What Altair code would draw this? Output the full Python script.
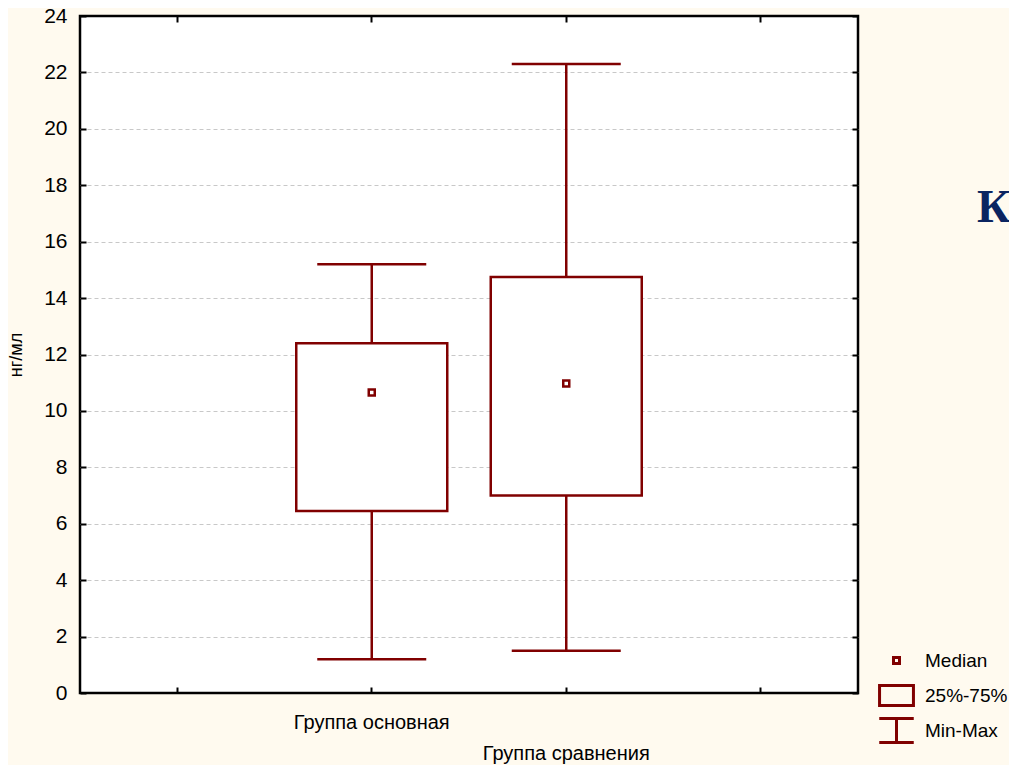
import altair as alt
import pandas as pd

# ---- data ----
groups = ["Группа основная", "Группа сравнения"]
mins = [1.2, 1.5]
q1s = [6.45, 7.0]
medians = [10.65, 10.97]
q3s = [12.4, 14.75]
maxs = [15.2, 22.3]

x_domain = ["pad_left", "Группа основная", "Группа сравнения", "pad_right"]
y_ticks = list(range(0, 25, 2))
legend_items = ["Median", "25%-75%", "Min-Max"]
legend_shapes = [
    "M0,-0.8M0,0.8M-0.2,-0.2H0.2V0.2H-0.2Z",
    "M0,-0.8M0,0.8M-1.13,-0.67H1.13V0.67H-1.13Z",
    "M0,-0.8M0,0.8M-1.15,-0.8H1.15M0,-0.8V0.8M-1.15,0.8H1.15",
]
side_word = ["Ко"]

DARK = "#800000"
FONT = "Liberation Sans Narrow, Arial Narrow, Liberation Sans, Arial, sans-serif"
BG = "#FFFAEF"

df = pd.DataFrame({
    "group": groups,
    "min": mins,
    "q1": q1s,
    "median": medians,
    "q3": q3s,
    "max": maxs,
    "kind": ["Median"] * len(groups),
})

label_expr = ("datum.value == 'Группа основная' ? datum.value : "
              "(datum.value == 'Группа сравнения' ? ['', datum.value] : '')")

x_main = alt.X(
    "group:N",
    scale=alt.Scale(type="band", domain=x_domain, paddingInner=0, paddingOuter=0),
    axis=alt.Axis(orient="bottom", title=None, labelExpr=label_expr, labelAngle=0,
                  labelFont=FONT, labelFontSize=20, labelColor="black",
                  labelLineHeight=31, labelPadding=19, labelBaseline="top",
                  labelLimit=400, labelOverlap=False,
                  tickSize=6, offset=-6, tickColor="black", tickWidth=2,
                  domain=False, grid=False),
)
y_scale = alt.Scale(domain=[0, 24], nice=False, zero=True)
edge_hide = {"condition": {"test": "datum.value == 0 || datum.value == 24", "value": 0},
             "value": 1}
y_axis = alt.Axis(orient="left", title="нг/мл", values=y_ticks,
                  labelFont=FONT, labelFontSize=21, labelColor="black",
                  labelPadding=13, tickSize=6, offset=-6, tickColor="black",
                  tickWidth=2, domain=False, grid=True, gridColor="#c8c8c8",
                  gridDash=[4, 3], gridWidth=1, gridOpacity=edge_hide,
                  titleFont=FONT, titleFontSize=18, titleFontWeight="normal",
                  titleColor="black", titlePadding=18)

base = alt.Chart(df)

whisker = base.mark_rule(color=DARK, strokeWidth=2.5, opacity=1).encode(
    x=x_main, y=alt.Y("min:Q", scale=y_scale, axis=y_axis), y2="max:Q")
box = base.mark_bar(size=151, fill="white", stroke=DARK, strokeWidth=2.5, opacity=1).encode(
    x=x_main, y=alt.Y("q1:Q", scale=y_scale), y2="q3:Q")
cap_top = base.mark_tick(size=109, thickness=2.5, color=DARK, opacity=1).encode(
    x=x_main, y=alt.Y("max:Q", scale=y_scale))
cap_bot = base.mark_tick(size=109, thickness=2.5, color=DARK, opacity=1).encode(
    x=x_main, y=alt.Y("min:Q", scale=y_scale))
med = base.mark_point(filled=False, size=900, strokeWidth=2.5, color=DARK, opacity=1).encode(
    x=x_main, y=alt.Y("median:Q", scale=y_scale),
    shape=alt.Shape("kind:N",
                    scale=alt.Scale(domain=legend_items, range=legend_shapes),
                    legend=alt.Legend(title=None, orient="none", legendX=800, legendY=628,
                                      symbolSize=900, symbolStrokeWidth=3,
                                      symbolStrokeColor=DARK, symbolFillColor="transparent",
                                      labelFont=FONT, labelFontSize=19, labelColor="black",
                                      labelOffset=12, rowPadding=-14, padding=0,
                                      labelLimit=200)),
)

main = alt.layer(whisker, box, cap_top, cap_bot, med)

mirror = base.mark_point(opacity=0).encode(
    x=alt.X("group:N",
            scale=alt.Scale(type="band", domain=x_domain, paddingInner=0, paddingOuter=0),
            axis=alt.Axis(orient="top", title=None, labels=False, tickSize=6, offset=-6,
                          tickColor="black", tickWidth=2, domain=False, grid=False)),
    y=alt.Y("median:Q", scale=alt.Scale(domain=[0, 24], nice=False, zero=True),
            axis=alt.Axis(orient="right", title=None, labels=False, values=y_ticks,
                          tickSize=6, offset=-6, tickColor="black", tickWidth=2,
                          domain=False, grid=False)),
)

word = alt.Chart(pd.DataFrame({"t": side_word})).mark_text(
    font="Liberation Serif", fontWeight="bold", fontSize=46, color="#0B2460",
    align="left", baseline="alphabetic").encode(
    text="t:N", x=alt.value(897), y=alt.value(206))

chart = alt.layer(main, mirror, word).resolve_scale(
    x="independent", y="independent"
).properties(
    width=778, height=677,
    autosize=alt.AutoSizeParams(type="none"),
    padding={"left": 72, "top": 8, "right": 151, "bottom": 72},
    background=BG,
).configure_view(
    stroke="black", strokeWidth=2.5, fill="white"
)

chart.save("out.html", embed_options={"renderer": "svg", "actions": False})
